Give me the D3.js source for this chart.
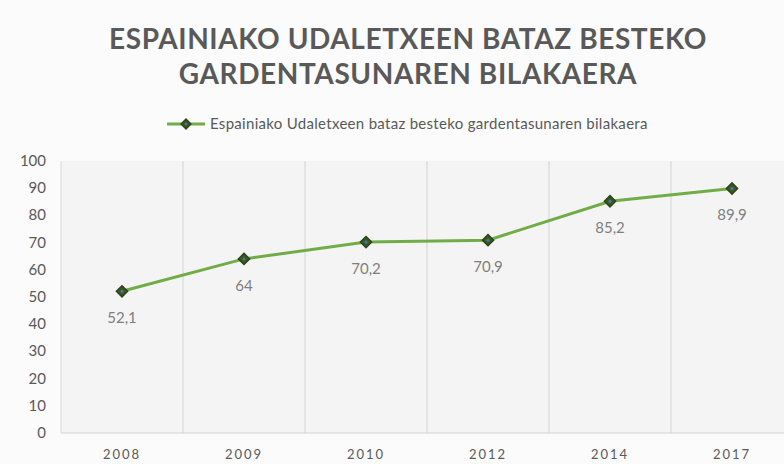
<!DOCTYPE html>
<html lang="eu">
<head>
<meta charset="UTF-8">
<script src="https://d3js.org/d3.v7.min.js"></script>
<style>
  body { margin: 0; background: #fbfbfb; }
  svg { display: block; font-family: Lato, "Open Sans", sans-serif; }
</style>
</head>
<body>
<script>
// data
const years = ["2008", "2009", "2010", "2012", "2014", "2017"];
const values = [52.1, 64, 70.2, 70.9, 85.2, 89.9];
const valueLabels = ["52,1", "64", "70,2", "70,9", "85,2", "89,9"];
const yTicks = [0, 10, 20, 30, 40, 50, 60, 70, 80, 90, 100];
const titleLines = ["ESPAINIAKO UDALETXEEN BATAZ BESTEKO", "GARDENTASUNAREN BILAKAERA"];
const seriesName = "Espainiako Udaletxeen bataz besteko gardentasunaren bilakaera";

const w = 784, h = 464;
const pLeft = 61, pRight = 793, pTop = 161, pBottom = 433;

const svg = d3.select("body").append("svg")
  .attr("width", w)
  .attr("height", h);

const x = d3.scaleBand().domain(years).range([pLeft, pRight]);
const y = d3.scaleLinear().domain([0, 100]).range([pBottom, pTop]);

// plot background
svg.append("rect")
  .attr("x", pLeft).attr("y", pTop)
  .attr("width", pRight - pLeft).attr("height", pBottom - pTop)
  .attr("fill", "#f4f4f4");

// vertical gridlines between categories
svg.selectAll(".grid")
  .data(years.slice(1))
  .enter().append("line")
  .attr("x1", d => x(d)).attr("x2", d => x(d))
  .attr("y1", pTop).attr("y2", pBottom)
  .attr("stroke", "#d4d4d4").attr("stroke-width", 1);

// baseline
svg.append("line")
  .attr("x1", pLeft).attr("x2", pRight)
  .attr("y1", pBottom).attr("y2", pBottom)
  .attr("stroke", "#d4d4d4");
svg.append("line")
  .attr("x1", pLeft).attr("x2", pLeft)
  .attr("y1", pTop).attr("y2", pBottom)
  .attr("stroke", "#d9d9d9");

// y axis labels
svg.selectAll(".ylab")
  .data(yTicks)
  .enter().append("text")
  .attr("x", 46)
  .attr("y", d => y(d) + 5)
  .attr("text-anchor", "end")
  .attr("font-size", 15)
  .attr("fill", "#595959")
  .text(d => d);

// x axis labels
svg.selectAll(".xlab")
  .data(years)
  .enter().append("text")
  .attr("x", d => x(d) + x.bandwidth() / 2)
  .attr("y", 459)
  .attr("text-anchor", "middle")
  .attr("font-size", 13)
  .attr("letter-spacing", 2)
  .attr("fill", "#595959")
  .text(d => d);

// line
const pts = years.map((d, i) => [x(d) + x.bandwidth() / 2, y(values[i])]);
svg.append("path")
  .attr("d", d3.line()(pts))
  .attr("fill", "none")
  .attr("stroke", "#70ad47")
  .attr("stroke-width", 3);

// markers
const diamond = d3.symbol().type(d3.symbolDiamond2).size(80);
svg.selectAll(".mk")
  .data(pts)
  .enter().append("path")
  .attr("d", diamond)
  .attr("transform", d => `translate(${d[0]},${d[1]})`)
  .attr("fill", "#3a5a1e")
  .attr("stroke", "#2c4417")
  .attr("stroke-width", 1.5);
svg.selectAll(".dot")
  .data(pts)
  .enter().append("circle")
  .attr("cx", d => d[0]).attr("cy", d => d[1]).attr("r", 1.5)
  .attr("fill", "#4472c4");

// data labels
svg.selectAll(".vlab")
  .data(pts)
  .enter().append("text")
  .attr("x", d => d[0])
  .attr("y", d => d[1] + 32)
  .attr("text-anchor", "middle")
  .attr("font-size", 15)
  .attr("fill", "#7f7f7f")
  .text((d, i) => valueLabels[i]);

// title
svg.selectAll(".title")
  .data(titleLines)
  .enter().append("text")
  .attr("x", 408)
  .attr("y", (d, i) => 49 + i * 35)
  .attr("text-anchor", "middle")
  .attr("font-size", 28)
  .attr("font-weight", "bold")
  .attr("letter-spacing", 0.6)
  .attr("fill", "#595959")
  .text(d => d);

// legend
svg.append("line")
  .attr("x1", 167).attr("x2", 205)
  .attr("y1", 124).attr("y2", 124)
  .attr("stroke", "#70ad47").attr("stroke-width", 3);
svg.append("path")
  .attr("d", d3.symbol().type(d3.symbolDiamond2).size(60))
  .attr("transform", "translate(186,124)")
  .attr("fill", "#3a5a1e").attr("stroke", "#2c4417").attr("stroke-width", 1.5);
svg.append("circle")
  .attr("cx", 186).attr("cy", 124).attr("r", 1.3).attr("fill", "#4472c4");
svg.append("text")
  .attr("x", 210).attr("y", 129)
  .attr("font-size", 15)
  .attr("letter-spacing", 0.3)
  .attr("fill", "#595959")
  .text(seriesName);
</script>
</body>
</html>
